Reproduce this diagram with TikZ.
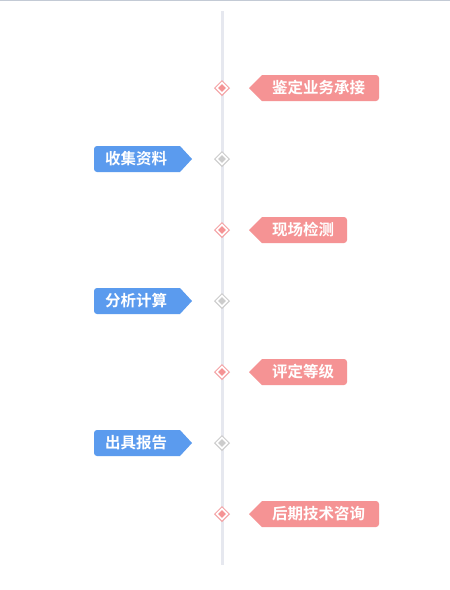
\documentclass[tikz,border=0pt]{standalone}
\usepackage{fontspec}
\newfontfamily\cjk{Noto Sans CJK SC}[BoldFont={Noto Sans CJK SC Bold}]
\definecolor{pinkc}{HTML}{F59394}
\definecolor{bluec}{HTML}{5B9BEE}
\definecolor{pinkline}{HTML}{F4A2A4}
\definecolor{grayd}{HTML}{CCCCCC}
\definecolor{axisc}{HTML}{E6E8EF}
\definecolor{topc}{HTML}{C3CAD5}
\tikzset{
  lbl/.style={inner sep=0pt, text=white, font=\cjk\bfseries\fontsize{15.5}{17}\selectfont},
  dmd/.style={draw, line width=1pt, diamond, minimum size=15pt, inner sep=0pt, fill=white},
}
\usetikzlibrary{shapes.geometric}
\newcommand{\pinkitem}[4]{% name, y, right x, text
  \fill[pinkc] (249,#2) -- (262,#2-13) [rounded corners=3] -- (#3,#2-13) -- (#3,#2+13) [sharp corners] -- (262,#2+13) -- cycle;
  \node[lbl, anchor=west] (#1) at (272,#2) {#4};
  \node[dmd, draw=pinkline] (#1d) at (222,#2) {};
  \fill[pinkc] (222,#2-3.8) -- (225.8,#2) -- (222,#2+3.8) -- (218.2,#2) -- cycle;
}
\newcommand{\blueitem}[3]{% name, y, text
  \fill[bluec] (192,#2) -- (180,#2-13) -- (97,#2-13) [rounded corners=3] -- (94,#2-13) -- (94,#2+13) [sharp corners] -- (180,#2+13) -- cycle;
  \node[lbl, anchor=west] (#1) at (105,#2) {#3};
  \node[dmd, draw=grayd] (#1d) at (222,#2) {};
  \fill[grayd] (222,#2-3.8) -- (225.8,#2) -- (222,#2+3.8) -- (218.2,#2) -- cycle;
}
\begin{document}
\begin{tikzpicture}[x=1pt,y=-1pt]
\useasboundingbox (0,0) rectangle (450,590);
\fill[white] (0,0) rectangle (450,590);
\draw[topc, line width=1.2pt] (0,0.6) -- (450,0.6);
\coordinate (top) at (222,11);
\coordinate (bot) at (222,565);
\draw[axisc, line width=3pt] (top) -- (bot);
\pinkitem{a}{88}{379}{鉴定业务承接}
\blueitem{b}{159}{收集资料}
\pinkitem{c}{230}{347}{现场检测}
\blueitem{d}{301}{分析计算}
\pinkitem{e}{372}{347}{评定等级}
\blueitem{f}{443}{出具报告}
\pinkitem{g}{514}{379}{后期技术咨询}
\end{tikzpicture}
\end{document}
